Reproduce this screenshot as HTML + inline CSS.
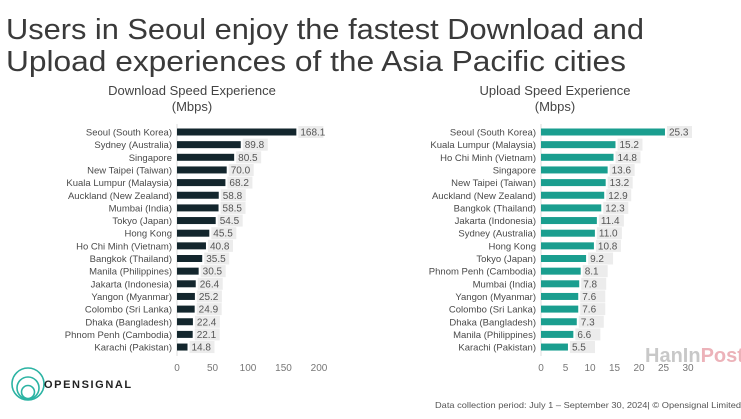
<!DOCTYPE html>
<html><head><meta charset="utf-8"><style>
html,body{margin:0;padding:0;background:#fff;}
svg{display:block;font-family:"Liberation Sans",sans-serif;}
</style></head><body>
<svg width="741" height="419" viewBox="0 0 741 419" xmlns="http://www.w3.org/2000/svg">
<rect width="741" height="419" fill="#fff"/>
<text x="6" y="39" font-size="29" fill="#3a3a3a" textLength="638" lengthAdjust="spacingAndGlyphs">Users in Seoul enjoy the fastest Download and</text>
<text x="6" y="71" font-size="29" fill="#3a3a3a" textLength="620" lengthAdjust="spacingAndGlyphs">Upload experiences of the Asia Pacific cities</text>

<text x="192" y="95" font-size="13" fill="#444" text-anchor="middle">Download Speed Experience</text>
<text x="192" y="111" font-size="13" fill="#444" text-anchor="middle">(Mbps)</text>
<text x="555" y="95" font-size="13" fill="#444" text-anchor="middle">Upload Speed Experience</text>
<text x="555" y="111" font-size="13" fill="#444" text-anchor="middle">(Mbps)</text>

<g id="dl" font-size="9.5" fill="#4a4a4a"></g>
<g id="ul" font-size="9.5" fill="#4a4a4a"></g>

<g font-size="10" fill="#777" text-anchor="middle">
<text x="177" y="371">0</text><text x="212.5" y="371">50</text><text x="248" y="371">100</text><text x="283.5" y="371">150</text><text x="319" y="371">200</text>
<text x="541" y="371">0</text><text x="565.5" y="371">5</text><text x="590" y="371">10</text><text x="614.5" y="371">15</text><text x="639" y="371">20</text><text x="663.5" y="371">25</text><text x="688" y="371">30</text>
</g>

<text x="645" y="362" font-size="20" font-weight="bold" fill="#bbb" opacity="0.8">HanIn<tspan fill="#e8a0a8">Post</tspan></text>

<g fill="none" stroke="#2bb3a3" stroke-width="1.6">
<circle cx="28" cy="384" r="16"/><circle cx="28" cy="388" r="11"/><circle cx="28" cy="392" r="6.5"/>
</g>
<text x="44" y="388" font-size="11" font-weight="bold" fill="#222" letter-spacing="1.6">OPENSIGNAL</text>
<text x="435" y="408" font-size="8.5" fill="#555" textLength="306" lengthAdjust="spacingAndGlyphs">Data collection period: July 1 – September 30, 2024| © Opensignal Limited</text>
</svg>
<script>
var NS="http://www.w3.org/2000/svg";
function mk(t,a,p,txt){var e=document.createElementNS(NS,t);for(var k in a)e.setAttribute(k,a[k]);if(txt!==undefined)e.textContent=txt;p.appendChild(e);return e;}
function chart(id,data,x0,sc,col){
 var g=document.getElementById(id);
 mk("line",{x1:x0,y1:124,x2:x0,y2:356,stroke:"#ddd","stroke-width":1},g);
 data.forEach(function(d,i){
  var y=132+i*12.65;var w=d[1]*sc;
  mk("text",{x:x0-5,y:y+3.5,"text-anchor":"end"},g,d[0]);
  mk("rect",{x:x0,y:y-3.5,width:w,height:7,fill:col},g);
  mk("rect",{x:x0+w+2,y:y-6,width:25,height:12,fill:"#ececec"},g);
  mk("text",{x:x0+w+4,y:y+3.5,"font-size":"10","fill":"#555"},g,d[1].toFixed(1));
 });
}
chart("dl",[["Seoul (South Korea)",168.1],["Sydney (Australia)",89.8],["Singapore",80.5],["New Taipei (Taiwan)",70.0],["Kuala Lumpur (Malaysia)",68.2],["Auckland (New Zealand)",58.8],["Mumbai (India)",58.5],["Tokyo (Japan)",54.5],["Hong Kong",45.5],["Ho Chi Minh (Vietnam)",40.8],["Bangkok (Thailand)",35.5],["Manila (Philippines)",30.5],["Jakarta (Indonesia)",26.4],["Yangon (Myanmar)",25.2],["Colombo (Sri Lanka)",24.9],["Dhaka (Bangladesh)",22.4],["Phnom Penh (Cambodia)",22.1],["Karachi (Pakistan)",14.8]],177,0.71,"#13262d");
chart("ul",[["Seoul (South Korea)",25.3],["Kuala Lumpur (Malaysia)",15.2],["Ho Chi Minh (Vietnam)",14.8],["Singapore",13.6],["New Taipei (Taiwan)",13.2],["Auckland (New Zealand)",12.9],["Bangkok (Thailand)",12.3],["Jakarta (Indonesia)",11.4],["Sydney (Australia)",11.0],["Hong Kong",10.8],["Tokyo (Japan)",9.2],["Phnom Penh (Cambodia)",8.1],["Mumbai (India)",7.8],["Yangon (Myanmar)",7.6],["Colombo (Sri Lanka)",7.6],["Dhaka (Bangladesh)",7.3],["Manila (Philippines)",6.6],["Karachi (Pakistan)",5.5]],541,4.9,"#1a9e8f");
</script>
</body></html>
